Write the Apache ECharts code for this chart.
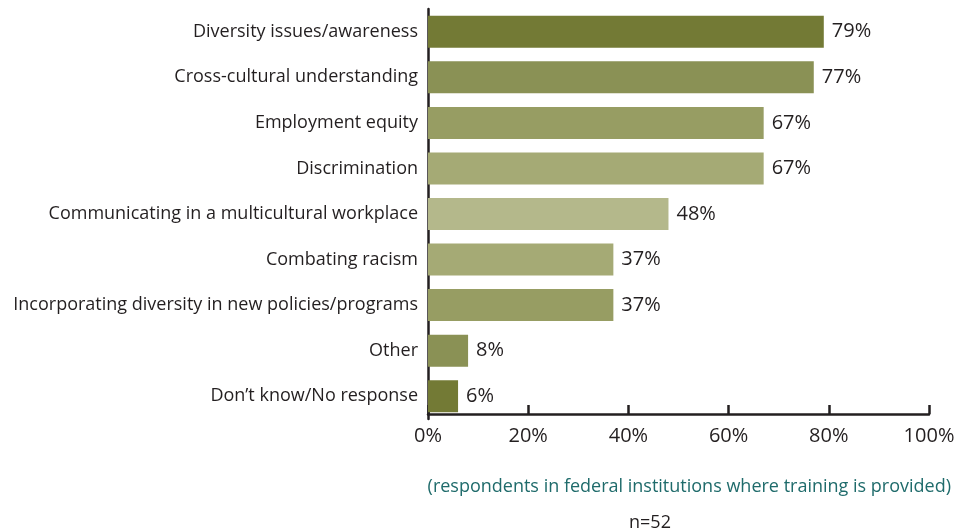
<!DOCTYPE html>
<html><head><meta charset="utf-8">
<script src="https://cdn.jsdelivr.net/npm/echarts@6/dist/echarts.min.js"></script>
<style>html,body{margin:0;padding:0;background:#fff}#c{width:958px;height:531px}</style>
</head><body><div id="c"></div>
<script>
const categories = [
  "Diversity issues/awareness",
  "Cross-cultural understanding",
  "Employment equity",
  "Discrimination",
  "Communicating in a multicultural workplace",
  "Combating racism",
  "Incorporating diversity in new policies/programs",
  "Other",
  "Don\u2019t know/No response"
];
const values = [79, 77, 67, 67, 48, 37, 37, 8, 6];
const barColors = ["#737a35","#8a9155","#979d63","#a5aa75","#b4b88b","#a5aa75","#979d63","#8a9155","#737a35"];
const xTicks = [0, 20, 40, 60, 80, 100];
const subtitle = "(respondents in federal institutions where training is provided)";
const note = "n=52";

const FONT = "'Open Sans', Lato, sans-serif";
const chart = echarts.init(document.getElementById('c'), null, {renderer:'canvas'});
chart.setOption({
  animation: false,
  grid: {left: 428, right: 29, top: 9, bottom: 112, containLabel: false},
  title: [
    {text: subtitle, right: 2, top: 473, textStyle: {color: '#1f6b6b', fontSize: 18, fontWeight: 'normal', fontFamily: FONT}},
    {text: note, left: 645, textAlign: 'center', top: 509, textStyle: {color: '#231f20', fontSize: 18, fontWeight: 'normal', fontFamily: FONT}}
  ],
  xAxis: {
    type: 'value', min: xTicks[0], max: xTicks[xTicks.length-1], interval: 20,
    offset: -5,
    axisLine: {show: true, lineStyle: {color: '#231f20', width: 2.5}},
    axisTick: {show: true, inside: true, length: 9, lineStyle: {color: '#231f20', width: 2.5}},
    splitLine: {show: false},
    axisLabel: {formatter: v => v + '%', color: '#231f20', fontSize: 20, fontFamily: FONT, margin: 12}
  },
  yAxis: {
    type: 'category', data: categories, inverse: true,
    axisLine: {show: true, lineStyle: {color: '#231f20', width: 2.5}},
    axisTick: {show: false},
    axisLabel: {color: '#231f20', fontSize: 18, fontFamily: FONT, margin: 10}
  },
  series: [{
    type: 'bar',
    data: values.map((v, i) => ({value: v, itemStyle: {color: barColors[i]}})),
    barWidth: 32,
    label: {show: true, position: 'right', distance: 8, formatter: p => p.value + '%', color: '#231f20', fontSize: 20, fontFamily: FONT}
  }]
});
</script></body></html>
